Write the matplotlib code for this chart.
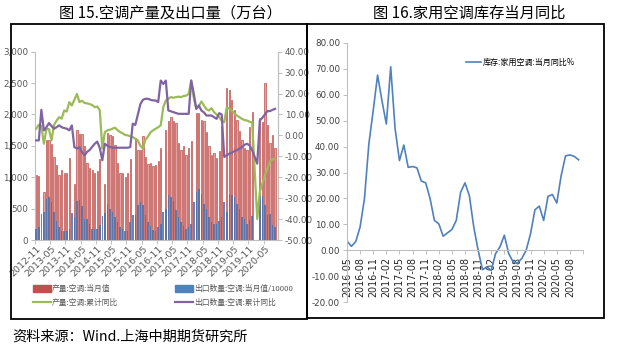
import numpy as np
import matplotlib
matplotlib.use('Agg')
import matplotlib.pyplot as plt
from matplotlib.lines import Line2D
from matplotlib.patches import Patch, Rectangle

nan = np.nan
plt.rcParams['font.family'] = ['Noto Sans CJK SC', 'DejaVu Sans']

# ---------------- Left chart data (2012-11 .. 2020-09, monthly) ----------------
left_ticklabels = ['2012-11', '2013-05', '2013-11', '2014-05', '2014-11', '2015-05',
                   '2015-11', '2016-05', '2016-11', '2017-05', '2017-11', '2018-05',
                   '2018-11', '2019-05', '2019-11', '2020-05']

production = [1030, 1020, nan, 770, 1600, 1590, 1530, 1330, 1190, 1030, 1120, 1060,
              1060, 1310, nan, 890, 1760, 1690, 1690, 1500, 1230, 1150, 1110, 1060,
              1100, 1290, nan, 900, 1700, 1680, 1650, 1510, 1220, 1060, 1060, 1010,
              1060, 1290, nan, 1620, 1430, 1430, 1650, 1330, 1210, 1230, 1180, 1190,
              1260, 1470, nan, 1750, 1900, 1955, 1900, 1860, 1540, 1430, 1490, 1350,
              1460, 1580, nan, 2030, 2020, 1910, 1900, 1725, 1490, 1350, 1380, 1300,
              1410, 1820, nan, 2420, 2390, 2230, 2070, 1910, 1730, 1590, 1460, 1430,
              1800, 2040, nan, nan, 1950, 1880, 2500, 1830, 1540, 1680, 1460]

export = [180, 200, 415, 450, 650, 690, 600, 450, 300, 200, 150, 150,
          150, 180, 430, 360, 620, 640, 540, 340, 330, 250, 180, 170,
          170, 240, 380, 430, 580, 500, 440, 370, 290, 200, 170, 150,
          150, 280, 400, 400, 560, 600, 560, 400, 280, 220, 160, 150,
          200, 260, 450, 500, 710, 680, 620, 480, 370, 280, 220, 170,
          200, 260, 610, 770, 810, 740, 580, 500, 370, 290, 250, 260,
          300, 370, 610, 450, 730, 720, 680, 580, 500, 370, 330, 250,
          320, 390, nan, nan, 700, 700, 560, 400, 420, 240, 200]

prod_yoy = [3.2, 5.1, 4.5, -4, 3, 3, -2.4, 5, 7.1, 8.7, 8, 11.9,
            11.4, 15.9, 14.3, 17, 19.8, 15.9, 16.6, 15.5, 15.3, 15, 14.5, 13.5,
            13.8, 12, -6.3, 1.6, 2.4, 2.7, 3.2, 3.7, 2.5, 1.6, 1.0, 0.2,
            0, -0.4, -0.8, -1.6, -2.4, -5, -6.3, -2, -0.5, 1.5, 2.4, 3.2,
            3.9, 4.8, 13.5, 16.7, 17.5, 18.3, 18, 18.3, 18.5, 18.3, 18.8, 19,
            19.8, 26.2, 18, 12.7, 14, 16.2, 14.3, 12.5, 11.9, 13, 11.1, 10,
            8.7, 7, 6.3, 13.5, 12.7, 11.9, 10.5, 9.5, 8.7, 7.9, 7.3, 7.1,
            6.5, 6.3, nan, -40, -27, -23, -19, -16, -12.5, -11.5, -11]

export_yoy = [-2.4, -2.4, 12.2, 2.4, 3.9, 5.9, 4.5, 3.2, 3.9, 4.8, 3.9, 3.5,
              3.2, 2.4, 4.8, -5.6, -6.3, -5.6, -8, -9.5, -7.9, -7, -5.5, -4,
              -3, -6, -11.9, -4, -5, -5.5, -5.9, -5.9, -5.9, -5.9, -5.9, -5.9,
              -5.9, -5.6, 5.6, 5.0, 10, 15, 17, 17.5, 17.5, 17, 16.7, 16.7,
              15.9, 26.2, 24.6, 26.2, 11.9, 11.5, 11.1, 10.7, 10.3, 10.3, 10.3, 10.3,
              10.3, 26.2, 20, 12.7, 14.3, 11.9, 11, 9.5, 9.5, 9.5, 8.7, 7.9,
              10.6, 10, -10.3, -9.5, -8.7, -8.3, -7.5, -7.1, -6.3, -5.6, -4.5, -4,
              -4.8, -7.1, nan, -13.5, 7.1, 8.4, 10, 11.6, 11.6, 12.2, 12.7]

left_names = ['产量:空调:当月值', '出口数量:空调:当月值/10000',
              '产量:空调:累计同比', '出口数量:空调:累计同比']

# ---------------- Right chart data (2016-05 .. 2020-10, monthly) ----------------
right_ticklabels = ['2016-05', '2016-08', '2016-11', '2017-02', '2017-05', '2017-08',
                    '2017-11', '2018-02', '2018-05', '2018-08', '2018-11', '2019-02',
                    '2019-05', '2019-08', '2019-11', '2020-02', '2020-05', '2020-08']
inventory_yoy = [3.6, 1.5, 3.3, 9, 20, 41, 54, 67.6, 57.7, 48.7, 70.8, 47,
                 34.6, 40.6, 32, 32.3, 31.8, 26.7, 26, 20, 11.5, 10.2, 5.4, 6.7,
                 8, 11.5, 22.4, 26, 21, 9, 0, -7.5, -6.5, -7.8, -1.3, 1.3,
                 5.8, -1.3, -4.5, -4.9, -3.2, 0, 6.4, 15.6, 17, 11.5, 20.8, 21.5,
                 18.2, 28.8, 36.4, 36.8, 36.2, 34.9]
right_name = '库存:家用空调:当月同比%'

RED, BLUE, GREEN, PURPLE = '#C0504D', '#4F81BD', '#9BBB59', '#8064A2'
GRAY = '#BFBFBF'
TXT = '#595959'
NARROW = ['Liberation Sans Narrow', 'DejaVu Sans']

W, H = 630, 346
fig = plt.figure(figsize=(W / 100, H / 100), dpi=100)
fig.patch.set_facecolor('white')

def fx(px):
    return px / W

def fy(py):
    return 1 - py / H

# frames
for (x0, y0, x1, y1) in [(11, 24, 307, 319), (307, 24, 604, 318)]:
    fig.patches.append(Rectangle((fx(x0), fy(y1)), fx(x1) - fx(x0), fy(y0) - fy(y1),
                                 transform=fig.transFigure, fill=False,
                                 ec='black', lw=1.3, zorder=10))

# titles
fig.text(fx(170), fy(13), '图 15.空调产量及出口量（万台）', ha='center', va='center',
         fontsize=11, color='black')
fig.text(fx(469), fy(13), '图 16.家用空调库存当月同比', ha='center', va='center',
         fontsize=11, color='black')
fig.text(fx(12), fy(337), '资料来源：Wind.上海中期期货研究所', ha='left', va='center',
         fontsize=10.2, color='black')

# ---------------- left chart ----------------
n = len(production)
x = np.arange(n)
ax = fig.add_axes([fx(35), fy(240), fx(277.7) - fx(35), fy(51.7) - fy(240)])
ax.bar(x, production, width=0.5, color='#E2A4A2', edgecolor=RED, lw=0.5, zorder=2)
ax.bar(x, export, width=0.62, color='#4A72B0', alpha=0.85, lw=0, zorder=3)
ax.set_ylim(0, 3000)
ax.set_xlim(-0.5, n + 0.05)
ax.set_yticks(np.arange(0, 3001, 500))
ax.set_yticklabels([f'{v:,}' for v in range(0, 3001, 500)], fontsize=6.3,
                   color=TXT, family=NARROW)
ax.set_xticks(np.arange(0, n, 6))
ax.set_xticklabels(left_ticklabels, rotation=45, ha='right', rotation_mode='anchor',
                   fontsize=6.8, color=TXT, family=NARROW)
ax.set_xticks(np.arange(-0.5, n, 6), minor=True)
ax.tick_params(axis='x', which='major', length=0, pad=3)
ax.tick_params(axis='x', which='minor', length=3, color=GRAY, width=0.7)
ax.tick_params(axis='y', length=3, color=GRAY, width=0.7, pad=2)
ax.spines['top'].set_visible(False)
for s in ['left', 'bottom', 'right']:
    ax.spines[s].set_color(GRAY)
    ax.spines[s].set_linewidth(0.8)

ax2 = ax.twinx()
g = np.array(prod_yoy, dtype=float)
p = np.array(export_yoy, dtype=float)
mg = ~np.isnan(g)
mp = ~np.isnan(p)
ax2.plot(x[mg], g[mg], color=GREEN, lw=1.6, zorder=4)
ax2.plot(x[mp], p[mp], color=PURPLE, lw=1.6, zorder=5)
ax2.set_ylim(-50, 40)
ax2.set_yticks(np.arange(-50, 41, 10))
ax2.set_yticklabels([f'{v:.2f}' for v in range(-50, 41, 10)], fontsize=6.3,
                    color=TXT, family=NARROW)
ax2.tick_params(axis='y', length=3, color=GRAY, width=0.7, pad=2)
for s in ['top', 'left', 'bottom']:
    ax2.spines[s].set_visible(False)
ax2.spines['right'].set_color(GRAY)
ax2.spines['right'].set_linewidth(0.8)

lk = dict(frameon=False, fontsize=5.6, handlelength=2.3, handleheight=0.9,
          labelspacing=0.75, handletextpad=0.15, borderaxespad=0, borderpad=0,
          labelcolor=TXT)
fig.legend([Patch(color=RED), Line2D([], [], color=GREEN, lw=1.6)],
           [left_names[0], left_names[2]], loc='upper left',
           bbox_to_anchor=(fx(33), fy(285)), **lk)
fig.legend([Patch(color=BLUE), Line2D([], [], color=PURPLE, lw=1.6)],
           [left_names[1], left_names[3]], loc='upper left',
           bbox_to_anchor=(fx(175), fy(285)), **lk)

# ---------------- right chart ----------------
m = len(inventory_yoy)
xr = np.arange(m)
axr = fig.add_axes([fx(347), fy(302), fx(583) - fx(347), fy(43) - fy(302)])
axr.spines['bottom'].set_position(('data', 0))
axr.plot(xr, inventory_yoy, color=BLUE, lw=1.2, label=right_name)
axr.set_ylim(-20, 80)
axr.set_xlim(0, m)
axr.set_yticks(np.arange(-20, 81, 10))
axr.set_yticklabels([f'{v:.2f}' for v in range(-20, 81, 10)], fontsize=6.3,
                    color='#404040', family=NARROW)
axr.set_xticks(np.arange(0, m + 1, 3))
axr.set_xticklabels(right_ticklabels + [''], rotation=90, fontsize=6.9,
                    color='#262626', family=['DejaVu Sans'], va='top', ha='center')
for s in ['top', 'right']:
    axr.spines[s].set_visible(False)
for s in ['left', 'bottom']:
    axr.spines[s].set_color(GRAY)
    axr.spines[s].set_linewidth(0.8)
axr.tick_params(axis='both', length=3, color=GRAY, width=0.7, pad=2)
axr.legend(loc='center left',
           bbox_to_anchor=((466 - 347) / (583 - 347), (302 - 62) / (302 - 43)),
           bbox_transform=axr.transAxes,
           frameon=False, fontsize=5.8, handlelength=1.9, handletextpad=0.2,
           borderaxespad=0, borderpad=0)

fig.savefig('out.png', dpi=100, facecolor='white')
